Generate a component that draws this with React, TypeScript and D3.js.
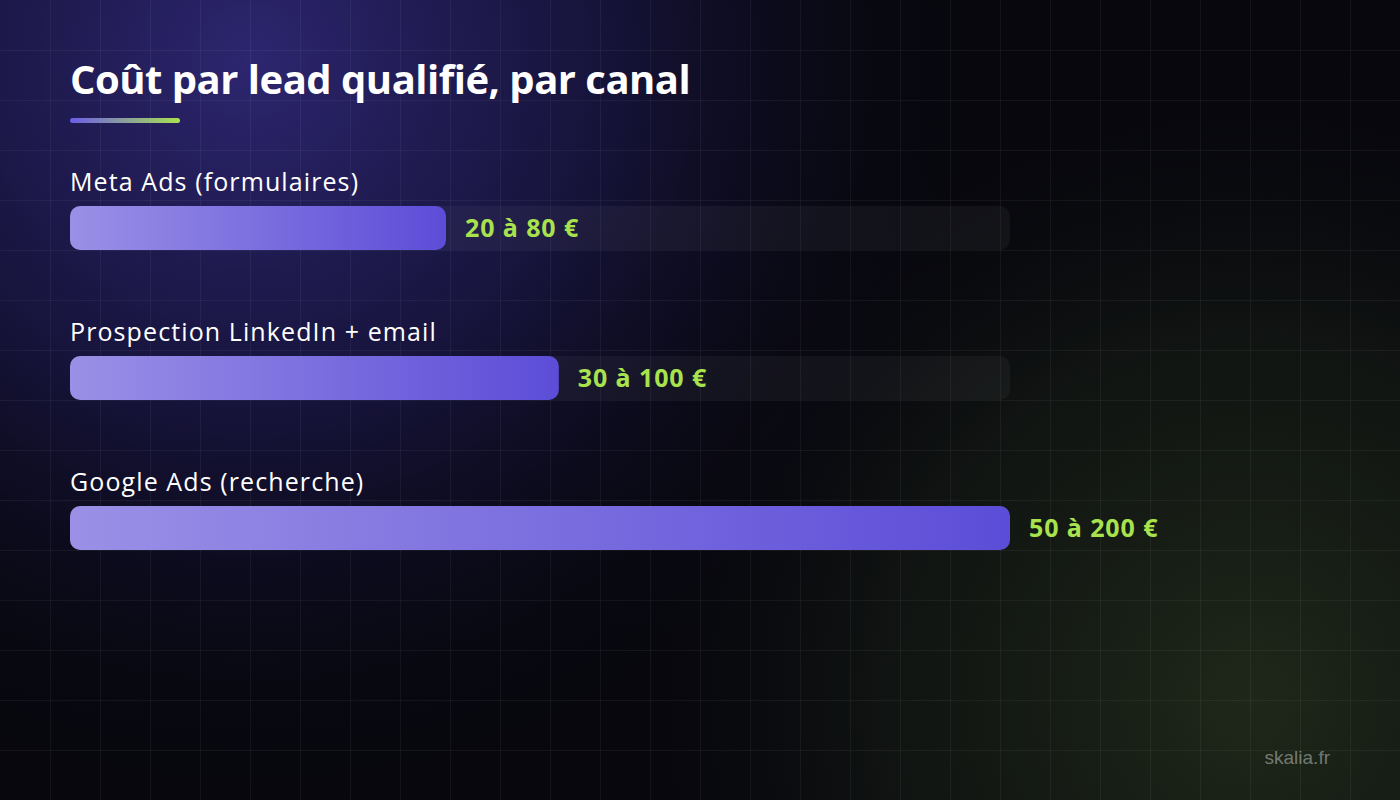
import React, { useEffect, useRef } from 'react';
import * as d3 from 'd3';

const channels = ['Meta Ads (formulaires)', 'Prospection LinkedIn + email', 'Google Ads (recherche)'];
const lowCost = [20, 30, 50];
const highCost = [80, 100, 200];
const valueLabels = ['20 à 80 €', '30 à 100 €', '50 à 200 €'];

const W = 1400;
const H = 800;

const App: React.FC = () => {
  const svgRef = useRef<SVGSVGElement>(null);

  useEffect(() => {
    document.body.style.margin = '0';
    if (!svgRef.current) return;
    const svg = d3.select(svgRef.current);
    svg.selectAll('*').remove();

    const defs = svg.append('defs');

    const glowPurple = defs.append('radialGradient')
      .attr('id', 'glowPurple')
      .attr('gradientUnits', 'userSpaceOnUse')
      .attr('cx', 250).attr('cy', 60).attr('r', 760);
    glowPurple.append('stop').attr('offset', '0%').attr('stop-color', '#2d2670').attr('stop-opacity', 1);
    glowPurple.append('stop').attr('offset', '45%').attr('stop-color', '#1b1748').attr('stop-opacity', 0.8);
    glowPurple.append('stop').attr('offset', '100%').attr('stop-color', '#07070d').attr('stop-opacity', 0);

    const glowGreen = defs.append('radialGradient')
      .attr('id', 'glowGreen')
      .attr('gradientUnits', 'userSpaceOnUse')
      .attr('cx', 1250).attr('cy', 700).attr('r', 650);
    glowGreen.append('stop').attr('offset', '0%').attr('stop-color', '#1e2819').attr('stop-opacity', 1);
    glowGreen.append('stop').attr('offset', '55%').attr('stop-color', '#151a14').attr('stop-opacity', 0.7);
    glowGreen.append('stop').attr('offset', '100%').attr('stop-color', '#07070d').attr('stop-opacity', 0);

    const barGrad = defs.append('linearGradient').attr('id', 'barGrad');
    barGrad.append('stop').attr('offset', '0%').attr('stop-color', '#9b90e6');
    barGrad.append('stop').attr('offset', '100%').attr('stop-color', '#5c4dd8');

    const lineGrad = defs.append('linearGradient').attr('id', 'lineGrad');
    lineGrad.append('stop').attr('offset', '0%').attr('stop-color', '#6c5ce7');
    lineGrad.append('stop').attr('offset', '100%').attr('stop-color', '#a8e34e');

    // Background
    svg.append('rect').attr('width', W).attr('height', H).attr('fill', '#07070d');
    svg.append('rect').attr('width', W).attr('height', H).attr('fill', 'url(#glowGreen)');
    svg.append('rect').attr('width', W).attr('height', H).attr('fill', 'url(#glowPurple)');

    // Grid
    const grid = svg.append('g').attr('stroke', 'rgba(255,255,255,0.05)').attr('stroke-width', 1);
    d3.range(50, W, 50).forEach(x => {
      grid.append('line').attr('x1', x + 0.5).attr('x2', x + 0.5).attr('y1', 0).attr('y2', H);
    });
    d3.range(50, H, 50).forEach(y => {
      grid.append('line').attr('x1', 0).attr('x2', W).attr('y1', y + 0.5).attr('y2', y + 0.5);
    });

    // Title
    svg.append('text')
      .attr('x', 70).attr('y', 94)
      .attr('fill', '#ffffff')
      .style('font-family', '"Open Sans", sans-serif')
      .style('font-weight', 700)
      .style('font-size', '40px')
      .style('letter-spacing', '-0.5px')
      .text('Coût par lead qualifié, par canal');

    svg.append('rect')
      .attr('x', 70).attr('y', 118).attr('width', 110).attr('height', 5).attr('rx', 2.5)
      .attr('fill', 'url(#lineGrad)');

    // Bars: length = midpoint of the cost range
    const mids = lowCost.map((d, i) => (d + highCost[i]) / 2);
    const x = d3.scaleLinear().domain([0, d3.max(mids) as number]).range([0, 940]);
    const y = d3.scaleBand<string>().domain(channels).range([206, 656]).paddingInner(0);
    const barH = 44;

    const rows = svg.append('g').selectAll('g').data(channels).join('g')
      .attr('transform', d => `translate(70,${y(d)})`);

    rows.append('text')
      .attr('x', 0).attr('y', -15)
      .attr('fill', '#ffffff')
      .style('font-family', '"Open Sans", sans-serif')
      .style('font-weight', 400)
      .style('font-size', '25px')
      .style('letter-spacing', '1.1px')
      .text(d => d);

    rows.append('rect')
      .attr('x', 0).attr('y', 0)
      .attr('width', x.range()[1]).attr('height', barH).attr('rx', 10)
      .attr('fill', 'rgba(255,255,255,0.045)');

    rows.append('rect')
      .attr('x', 0).attr('y', 0)
      .attr('width', (d, i) => x(mids[i])).attr('height', barH).attr('rx', 10)
      .attr('fill', 'url(#barGrad)');

    rows.append('text')
      .attr('x', (d, i) => x(mids[i]) + 19)
      .attr('y', barH / 2)
      .attr('dy', '0.36em')
      .attr('fill', '#a8e34e')
      .style('font-family', '"Open Sans", sans-serif')
      .style('font-weight', 700)
      .style('font-size', '25px')
      .style('letter-spacing', '0.9px')
      .text((d, i) => valueLabels[i]);

    // Watermark
    svg.append('text')
      .attr('x', 1330).attr('y', 764)
      .attr('text-anchor', 'end')
      .attr('fill', 'rgba(255,255,255,0.4)')
      .style('font-family', '"Liberation Sans", Arial, sans-serif')
      .style('font-size', '19px')
      .text('skalia.fr');
  }, []);

  return (
    <div style={{ position: 'fixed', left: 0, top: 0, width: W, height: H }}>
      <svg ref={svgRef} width={W} height={H} style={{ display: 'block' }} />
    </div>
  );
};

export default App;
